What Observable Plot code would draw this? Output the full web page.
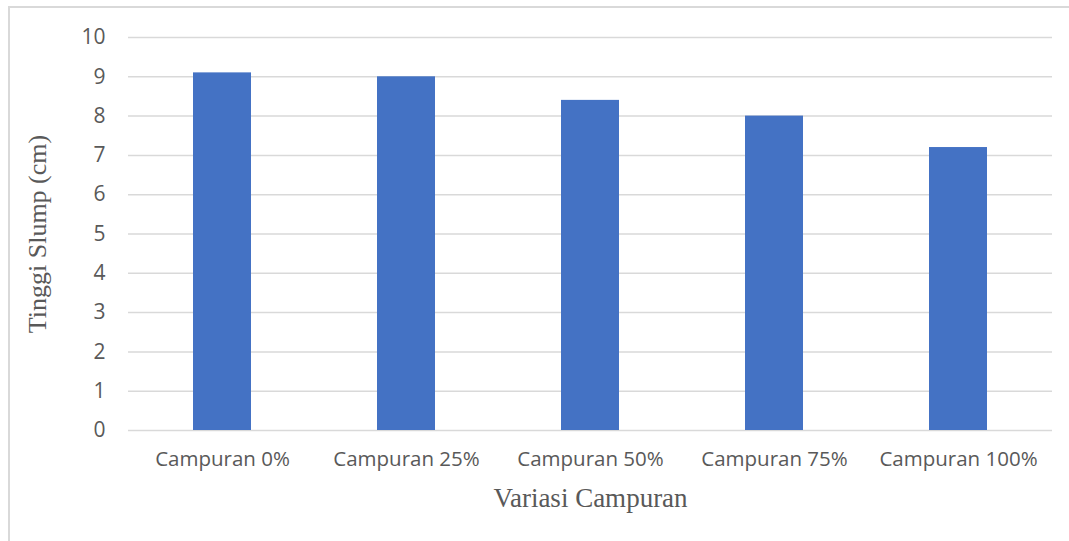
<!DOCTYPE html>
<html>
<head>
<meta charset="utf-8">
<script src="https://cdn.jsdelivr.net/npm/d3@7"></script>
<script src="https://cdn.jsdelivr.net/npm/@observablehq/plot@0.6"></script>
<style>
  html, body { margin: 0; padding: 0; background: #fff; overflow: hidden; }
  #wrap { position: relative; width: 1069px; height: 541px; }
  #frame { position: absolute; left: 8px; top: 6px; width: 1100px; height: 600px; border: 2px solid #d9d9d9; box-sizing: border-box; }
  #chart { position: absolute; left: 0; top: 0; }
</style>
</head>
<body>
<div id="wrap"><div id="frame"></div><div id="chart"></div></div>
<script>
const categories = ["Campuran 0%", "Campuran 25%", "Campuran 50%", "Campuran 75%", "Campuran 100%"];
const slump = [9.1, 9.0, 8.4, 8.0, 7.2];
const yTicks = [0, 1, 2, 3, 4, 5, 6, 7, 8, 9, 10];
const xTitle = "Variasi Campuran";
const yTitle = "Tinggi Slump (cm)";

const data = categories.map((c, i) => ({ cat: c, v: slump[i] }));

const chart = Plot.plot({
  width: 1069,
  height: 541,
  marginLeft: 128,
  marginRight: 17,
  marginTop: 37,
  marginBottom: 111,
  style: { background: "transparent", fontFamily: "'Open Sans', sans-serif", fontSize: "20px" },
  x: { domain: categories, paddingInner: 0.686, paddingOuter: 0.343, label: null },
  y: { domain: [0, 10], label: null },
  marks: [
    Plot.gridY(yTicks, { stroke: "#d9d9d9", strokeOpacity: 1, strokeWidth: 1.5 }),
    Plot.barY(data, { x: "cat", y: "v", fill: "#4472c4" }),
    Plot.axisY(yTicks, { tickSize: 0, tickPadding: 23, fontSize: 21, fill: "#595959", label: null }),
    Plot.axisX({ tickSize: 0, tickPadding: 21, fontSize: 20.5, fill: "#595959", label: null }),
    Plot.text([yTitle], { frameAnchor: "left", dx: -91, rotate: -90, textAnchor: "middle", fontSize: 26, fill: "#595959", fontFamily: "'Liberation Serif', serif" }),
    Plot.text([xTitle], { frameAnchor: "bottom", dy: 76, fontSize: 27, fill: "#595959", fontFamily: "'Liberation Serif', serif" })
  ]
});
document.getElementById("chart").appendChild(chart);
</script>
</body>
</html>
